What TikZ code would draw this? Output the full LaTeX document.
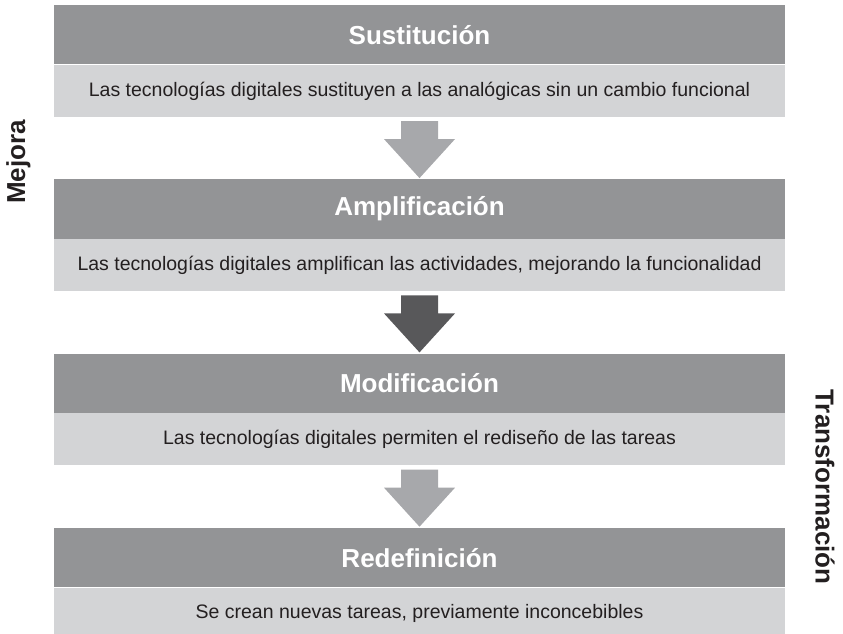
\documentclass[tikz,border=0pt]{standalone}
\usepackage{fontspec}
\setmainfont{Liberation Sans}
\usepackage{xcolor}
\usetikzlibrary{positioning,calc}

\definecolor{headgray}{RGB}{147,148,150}
\definecolor{bandgray}{RGB}{211,212,214}
\definecolor{arrlight}{RGB}{167,168,171}
\definecolor{arrdark}{RGB}{88,88,90}
\definecolor{inkgray}{RGB}{35,31,32}

\begin{document}
\begin{tikzpicture}[x=1pt, y=1pt,
  header/.style={rectangle, fill=headgray, minimum width=731pt, minimum height=59.5pt,
    inner sep=0pt, text=white, font=\fontsize{26}{30}\selectfont\bfseries},
  band/.style={rectangle, fill=bandgray, minimum width=731pt, minimum height=52pt,
    inner sep=0pt, text=inkgray, font=\fontsize{19.5}{24}\selectfont},
  side/.style={font=\fontsize{26}{30}\selectfont\bfseries, text=inkgray, inner sep=0pt},
]
  \useasboundingbox (0,0) rectangle (843,634);

  \node[header] (hdrA) at (419.5,599.25) {Sustitución};
  \node[band, below=0pt of hdrA] (bandA) {Las tecnologías digitales sustituyen a las analógicas sin un cambio funcional};

  \node[header, below=62pt of bandA] (hdrB) {Amplificación};
  \node[band, below=0pt of hdrB] (bandB) {Las tecnologías digitales amplifican las actividades, mejorando la funcionalidad};

  \node[header, below=62pt of bandB] (hdrC) {Modificación};
  \node[band, below=0pt of hdrC] (bandC) {Las tecnologías digitales permiten el rediseño de las tareas};

  \node[header, below=62pt of bandC] (hdrD) {Redefinición};
  \node[band, below=0pt of hdrD] (bandD) {Se crean nuevas tareas, previamente inconcebibles};

  % block arrows between the stages
  \foreach \from/\to/\col in {bandA/hdrB/arrlight, bandB/hdrC/arrdark, bandC/hdrD/arrlight}
    \fill[\col] ($(\from.south)+(-18.5,-4)$) -- ($(\from.south)+(18.5,-4)$)
      -- ($(\from.south)+(18.5,-22)$) -- ($(\from.south)+(35.5,-22)$)
      -- ($(\to.north)+(0,1)$)
      -- ($(\from.south)+(-35.5,-22)$) -- ($(\from.south)+(-18.5,-22)$) -- cycle;

  \node[side, rotate=90]  (mejora) at (18.5,472) {Mejora};
  \node[side, rotate=-90] (transf) at (825,147) {Transformación};
\end{tikzpicture}
\end{document}
